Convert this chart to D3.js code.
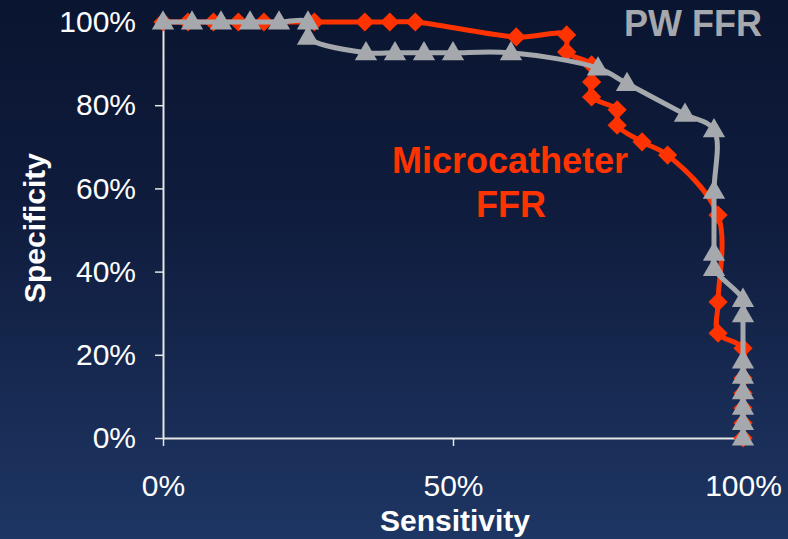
<!DOCTYPE html>
<html><head><meta charset="utf-8">
<script src="https://cdn.jsdelivr.net/npm/d3@7"></script>
<style>
html,body{margin:0;padding:0;background:#0a1530;}
svg{display:block;font-family:"Liberation Sans",Arial,sans-serif;}
</style></head>
<body><svg id="c" width="788" height="539"></svg>
<script>
// Data (sensitivity, specificity)
const microSens = [0,0.043,0.087,0.13,0.174,0.261,0.348,0.391,0.435,0.609,0.696,0.696,0.739,0.739,0.739,0.783,0.783,0.826,0.870,0.957,0.957,0.957,1,1,1,1,1,1];
const microSpec = [1,1,1,1,1,1,1,1,1,0.964,0.969,0.928,0.897,0.856,0.82,0.789,0.752,0.712,0.680,0.536,0.327,0.252,0.216,0.144,0.108,0.072,0.036,0];
const pwSens = [0,0.05,0.1,0.15,0.2,0.25,0.25,0.35,0.4,0.45,0.5,0.6,0.75,0.8,0.9,0.95,0.95,0.95,0.95,1,1,1,1,1,1,1,1];
const pwSpec = [1,1,1,1,1,1,0.963,0.926,0.926,0.926,0.926,0.926,0.889,0.852,0.778,0.741,0.593,0.444,0.407,0.333,0.296,0.185,0.148,0.111,0.074,0.037,0];
const xTicks = [0,0.5,1];
const yTicks = [0,0.2,0.4,0.6,0.8,1];

const svg = d3.select("#c");
const defs = svg.append("defs");
const g = defs.append("linearGradient").attr("id","bg").attr("x1",0).attr("y1",0).attr("x2",0).attr("y2",1);
g.append("stop").attr("offset","0%").attr("stop-color","#0a1530");
g.append("stop").attr("offset","40%").attr("stop-color","#0f1c3d");
g.append("stop").attr("offset","100%").attr("stop-color","#1e3664");
svg.append("rect").attr("width",788).attr("height",539).attr("fill","url(#bg)");

const x = d3.scaleLinear().domain([0,1]).range([163,743]);
const y = d3.scaleLinear().domain([0,1]).range([438,22]);

const axisColor = "#e6e6e6";
const yAxis = svg.append("g").attr("transform","translate(163,0)")
  .call(d3.axisLeft(y).tickValues(yTicks).tickFormat(d3.format(".0%")).tickSize(8).tickSizeOuter(0).tickPadding(19));
const xAxis = svg.append("g").attr("transform","translate(0,438)")
  .call(d3.axisBottom(x).tickValues(xTicks).tickFormat(d3.format(".0%")).tickSize(8).tickSizeOuter(0).tickPadding(29));
[xAxis,yAxis].forEach(a=>{
  a.select(".domain").attr("stroke",axisColor).attr("stroke-width",2);
  a.selectAll(".tick line").attr("stroke",axisColor).attr("stroke-width",1.5);
  a.selectAll(".tick text").attr("fill","#ffffff").attr("font-size",30).attr("font-family","'Liberation Sans',Arial,sans-serif");
});

const red = "#ff3300", gray = "#a5a8ad";
const line = d3.line().x(d=>x(d[0])).y(d=>y(d[1])).curve(d3.curveCatmullRom);

const micro = microSens.map((s,i)=>[s,microSpec[i]]);
const pw = pwSens.map((s,i)=>[s,pwSpec[i]]);

svg.append("path").datum(micro).attr("d",line).attr("fill","none").attr("stroke",red).attr("stroke-width",5).attr("stroke-linejoin","round");
svg.append("g").selectAll("path").data(micro).join("path")
  .attr("d",d3.symbol(d3.symbolSquare,185))
  .attr("transform",d=>`translate(${x(d[0])},${y(d[1])}) rotate(45)`)
  .attr("fill",red);

svg.append("path").datum(pw).attr("d",line).attr("fill","none").attr("stroke",gray).attr("stroke-width",5).attr("stroke-linejoin","round");
svg.append("g").selectAll("path").data(pw).join("path")
  .attr("d",d3.symbol(d3.symbolTriangle,215))
  .attr("transform",d=>`translate(${x(d[0])},${y(d[1])+1})`)
  .attr("fill",gray);

svg.append("text").attr("x",762).attr("y",36).attr("text-anchor","end")
  .attr("font-size",36).attr("font-weight","bold").attr("fill",gray).text("PW FFR");
const lab = svg.append("text").attr("text-anchor","middle").attr("font-size",36).attr("font-weight","bold").attr("fill",red);
lab.append("tspan").attr("x",510).attr("y",173).text("Microcatheter");
lab.append("tspan").attr("x",511).attr("y",217).text("FFR");

svg.append("text").attr("x",455).attr("y",531).attr("text-anchor","middle")
  .attr("font-size",30).attr("font-weight","bold").attr("fill","#ffffff").text("Sensitivity");
svg.append("text").attr("transform","translate(45,228) rotate(-90)").attr("text-anchor","middle")
  .attr("font-size",30).attr("font-weight","bold").attr("fill","#ffffff").text("Specificity");
</script></body></html>
